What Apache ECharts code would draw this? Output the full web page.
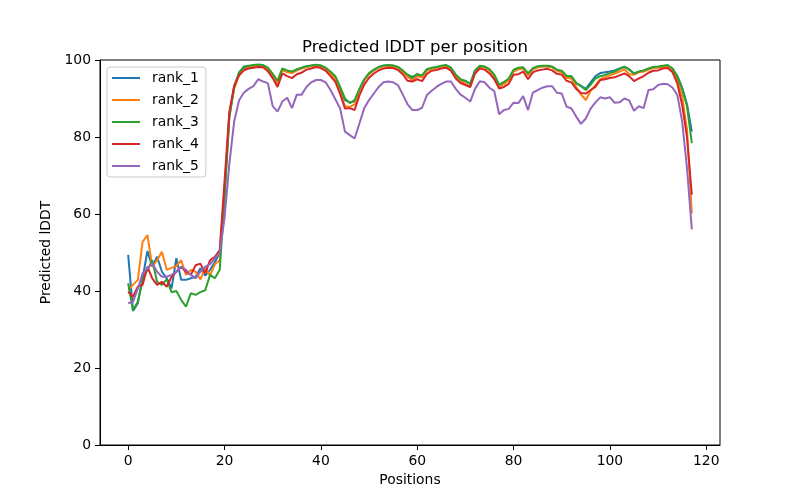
<!DOCTYPE html>
<html>
<head>
<meta charset="utf-8">
<script src="https://cdn.jsdelivr.net/npm/echarts@6/dist/echarts.min.js"></script>
<style>html,body{margin:0;padding:0;background:#fff}#c{width:800px;height:500px}</style>
</head>
<body>
<div id="c"></div>
<script>
const seriesNames = ['rank_1', 'rank_2', 'rank_3', 'rank_4', 'rank_5'];
const xTicks = [0, 20, 40, 60, 80, 100, 120];
const yTicks = [0, 20, 40, 60, 80, 100];

const rank_1 = [49.4, 34.8, 36.8, 43.3, 50.4, 46.3, 48.9, 45, 43.3, 40.7, 48.5, 42.9, 42.9, 43.3, 43.7, 45.9, 44, 45.5, 47.5, 50,
  66, 86, 93, 96.5, 97.8, 98.2, 98.6, 98.7, 98.6, 97.8, 96.2, 94.4, 97.6, 97, 96.8, 97.4, 97.9, 98.3, 98.5, 98.7,
  98.5, 97.9, 96.8, 95.5, 92.5, 89.6, 89, 89.3, 92.3, 94.8, 96.5, 97.4, 98.1, 98.5, 98.6, 98.5, 98.1, 97.1, 96, 95.3,
  96.3, 95.8, 97.4, 97.9, 98.1, 98.4, 98.6, 97.9, 96, 94.8, 94.6, 93.7, 97.2, 98.4, 98.2, 97.4, 96, 93.4, 94.2, 95,
  97.3, 97.8, 97.9, 96.3, 97.7, 98.2, 98.4, 98.4, 98.2, 97.4, 97, 95.6, 95.6, 94, 93.3, 92.5, 94.2, 95.8, 96.6, 96.8,
  97, 97.3, 97.8, 98.2, 97.5, 96.4, 96.9, 97.2, 97.7, 98.1, 98.2, 98.4, 98.5, 97.7, 95.8, 92.8, 88.5, 81.4];
const rank_2 = [40.3, 41.6, 42.9, 52.8, 54.5, 46.3, 48, 50.2, 45.5, 46, 46.5, 48, 44.2, 45.5, 45, 43, 46, 44, 47, 48,
  65, 85.5, 92.5, 96, 97.4, 98, 98.5, 98.6, 98.5, 97.6, 95.8, 93.8, 97.4, 96.8, 96.6, 97.3, 97.8, 98.2, 98.4, 98.6,
  98.4, 97.7, 96.5, 95, 91.8, 88, 87.8, 88.5, 92, 94.7, 96.3, 97.3, 98, 98.4, 98.5, 98.4, 98, 97, 95.6, 94.7,
  95.8, 95.5, 97.2, 97.7, 98, 98.3, 98.5, 97.7, 95.8, 94.5, 93.8, 93, 97, 98.3, 98.1, 97.3, 95.7, 93, 93.8, 94.7,
  97, 97.6, 97.8, 96, 97.5, 98.1, 98.3, 98.3, 98.1, 97.2, 96.8, 95.4, 95.2, 93, 91, 89.6, 92, 93.5, 95, 95.5,
  96, 96.5, 97, 97.6, 96.3, 96.2, 96.8, 97, 97.5, 97.9, 98, 98.2, 98.4, 97.4, 95, 90.5, 82, 60.2];
const rank_3 = [42, 35, 37.2, 42.9, 45.5, 48, 42.4, 41.6, 43, 39.7, 40, 37.7, 35.9, 39.4, 39, 39.7, 40.2, 44.2, 43.3, 45.5,
  64, 85, 93, 96.8, 98.3, 98.5, 98.7, 98.8, 98.7, 98, 96.4, 94.6, 97.8, 97.3, 97, 97.6, 98, 98.4, 98.6, 98.8,
  98.6, 98, 97, 95.8, 93, 90, 88.8, 89.6, 92.5, 95, 96.6, 97.5, 98.2, 98.6, 98.7, 98.6, 98.2, 97.3, 96.2, 95.6,
  96.3, 96, 97.6, 98, 98.2, 98.5, 98.7, 98, 96.2, 95, 94.5, 93.9, 97.3, 98.5, 98.3, 97.6, 96.2, 93.6, 94.3, 95.2,
  97.5, 98, 98.1, 96.5, 97.9, 98.4, 98.5, 98.5, 98.3, 97.5, 97.2, 95.9, 95.8, 94, 93.2, 92.2, 93.6, 95.2, 95.8, 96.1,
  96.6, 97, 97.7, 98.3, 97.6, 96.5, 97, 97.3, 97.8, 98.2, 98.3, 98.5, 98.7, 97.8, 95.7, 92.5, 88, 78.4];
const rank_4 = [39.8, 38.5, 41.1, 41.6, 46.3, 43.3, 41.6, 42.4, 41.1, 43.7, 45, 46.3, 45, 44.2, 46.7, 47.1, 44.6, 48, 48.9, 50.6,
  68.5, 86.5, 93.3, 96, 97.3, 97.8, 98, 98.2, 98.1, 97.1, 95.3, 93, 96.5, 95.8, 95.3, 96.3, 96.7, 97.5, 97.8, 98.2,
  97.9, 97.2, 95.8, 94.3, 91.2, 87.4, 87.5, 87, 90.8, 93.6, 95.4, 96.5, 97.3, 97.8, 98, 97.9, 97.4, 96.3, 94.6, 94.4,
  95, 94.5, 96.4, 97.2, 97.4, 97.8, 98, 97.2, 95.2, 94, 93.5, 93, 96.5, 97.8, 97.5, 96.5, 95, 92.6, 93, 93.8,
  96.2, 96.3, 97, 95, 96.8, 97.3, 97.5, 97.7, 97.3, 96.4, 96.2, 94.6, 94.2, 92.5, 91.4, 91.3, 92.2, 93, 94.8, 95,
  95.3, 95.5, 96, 96.5, 95.8, 94.5, 95.2, 95.8, 96.7, 97.2, 97.3, 97.8, 97.9, 96.8, 93.9, 88.3, 80, 65];
const rank_5 = [36.8, 37.2, 40.6, 44.6, 45.9, 47.2, 45, 43.7, 43.7, 44.2, 45, 46.3, 45.5, 44.2, 43.3, 45, 46.3, 47, 48.5, 50,
  59, 73, 84, 89.5, 91.5, 92.5, 93.2, 95, 94.4, 94, 88, 86.6, 89.2, 90.2, 87.5, 91, 91, 93, 94.2, 94.8,
  94.8, 94.2, 92.2, 89.8, 87.4, 81.4, 80.5, 79.6, 83.5, 87.5, 89.6, 91.3, 93, 94.2, 94.4, 94.2, 93.5, 91, 88.5, 87,
  87, 87.6, 90.9, 92, 93, 93.8, 94.4, 94.4, 92.5, 91, 90.2, 89.2, 92.5, 94.5, 94.2, 92.8, 91.9, 85.9, 87, 87.3,
  88.9, 88.8, 90.6, 87, 91.5, 92.2, 92.8, 93.2, 93.2, 91.5, 91.3, 87.9, 87.4, 85.3, 83.4, 84.8, 87.4, 89, 90.3, 90,
  90.3, 88.9, 89, 90, 89.5, 86.8, 88, 87.5, 92.2, 92.4, 93.5, 93.8, 93.7, 92.8, 90.9, 84, 72, 56];

const allSeries = [rank_1, rank_2, rank_3, rank_4, rank_5];
const colors = ['#1f77b4', '#ff7f0e', '#2ca02c', '#d62728', '#9467bd'];
const FONT = 'DejaVu Sans';

const chart = echarts.init(document.getElementById('c'), null, {renderer: 'canvas'});
chart.setOption({
  backgroundColor: '#fff',
  animation: false,
  title: {
    text: 'Predicted lDDT per position',
    left: 410, top: 34, textAlign: 'center',
    textStyle: {fontFamily: FONT, fontSize: 16.5, fontWeight: 'normal', color: '#000'}
  },
  legend: {
    orient: 'vertical', left: 107, top: 67,
    data: seriesNames,
    icon: 'rect', itemWidth: 28, itemHeight: 2, itemGap: 8,
    padding: [4, 7, 4, 5],
    borderColor: '#cccccc', borderWidth: 1, borderRadius: 3,
    backgroundColor: 'rgba(255,255,255,0.8)',
    textStyle: {fontFamily: FONT, fontSize: 13.9, color: '#000', padding: [0, 0, 0, 7]}
  },
  grid: {left: 100, right: 80, top: 60, bottom: 55, show: true, borderColor: '#000', borderWidth: 1, backgroundColor: 'transparent'},
  xAxis: {
    type: 'value', min: -5.85, max: 122.85,
    name: 'Positions', nameLocation: 'middle', nameGap: 27,
    nameTextStyle: {fontFamily: FONT, fontSize: 13.9, color: '#000'},
    axisLine: {show: true, onZero: false, lineStyle: {color: '#000', width: 1}},
    axisTick: {show: true, length: 5, lineStyle: {color: '#000'}, customValues: xTicks},
    axisLabel: {margin: 9, fontFamily: FONT, fontSize: 13.9, color: '#000', customValues: xTicks, formatter: v => String(v)},
    splitLine: {show: false}
  },
  yAxis: {
    type: 'value', min: 0, max: 100, interval: 20,
    name: 'Predicted lDDT', nameLocation: 'middle', nameGap: 36,
    nameTextStyle: {fontFamily: FONT, fontSize: 13.9, color: '#000'},
    axisLine: {show: true, onZero: false, lineStyle: {color: '#000', width: 1}},
    axisTick: {show: true, length: 5, lineStyle: {color: '#000'}, customValues: yTicks},
    axisLabel: {margin: 9, fontFamily: FONT, fontSize: 13.9, color: '#000', customValues: yTicks},
    splitLine: {show: false}
  },
  series: seriesNames.map((name, k) => ({
    name: name,
    type: 'line',
    data: allSeries[k].map((v, i) => [i, v]),
    showSymbol: false,
    symbol: 'none',
    lineStyle: {color: colors[k], width: 2},
    itemStyle: {color: colors[k]},
    emphasis: {disabled: true}
  }))
});
</script>
</body>
</html>
